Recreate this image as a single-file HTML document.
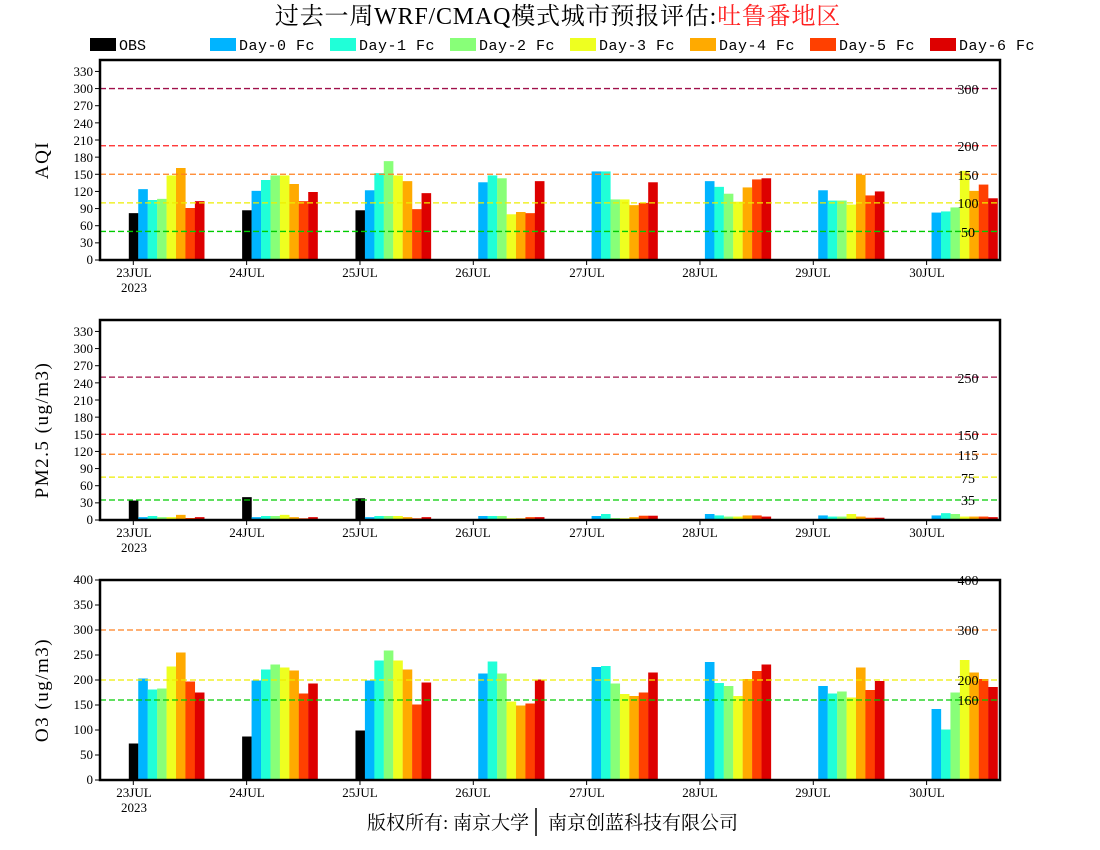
<!DOCTYPE html>
<html><head><meta charset="utf-8">
<style>
body{margin:0;background:#fff;}
svg{display:block;}
text{font-family:"Liberation Serif","Noto Serif CJK SC",serif;}
.mono{font-family:"Liberation Mono",monospace;}
</style></head><body>
<svg id="s" width="1100" height="850" xmlns="http://www.w3.org/2000/svg">
<rect width="1100" height="850" fill="#fff"/>
<text x="558" y="24" font-size="24" text-anchor="middle" letter-spacing="0.8"><tspan fill="#000">过去一周WRF/CMAQ模式城市预报评估:</tspan><tspan fill="#ff2020">吐鲁番地区</tspan></text>
<g font-size="15">
<rect x="90" y="38" width="26" height="13" fill="#000"/><text class="mono" x="119" y="50">OBS</text>
<rect x="210" y="38" width="26" height="13" fill="#00b4ff"/><text class="mono" x="239" y="50" letter-spacing="0.5">Day-0 Fc</text>
<rect x="330" y="38" width="26" height="13" fill="#20ffd8"/><text class="mono" x="359" y="50" letter-spacing="0.5">Day-1 Fc</text>
<rect x="450" y="38" width="26" height="13" fill="#88ff78"/><text class="mono" x="479" y="50" letter-spacing="0.5">Day-2 Fc</text>
<rect x="570" y="38" width="26" height="13" fill="#eeff20"/><text class="mono" x="599" y="50" letter-spacing="0.5">Day-3 Fc</text>
<rect x="690" y="38" width="26" height="13" fill="#ffaa00"/><text class="mono" x="719" y="50" letter-spacing="0.5">Day-4 Fc</text>
<rect x="810" y="38" width="26" height="13" fill="#ff4000"/><text class="mono" x="839" y="50" letter-spacing="0.5">Day-5 Fc</text>
<rect x="930" y="38" width="26" height="13" fill="#dd0000"/><text class="mono" x="959" y="50" letter-spacing="0.5">Day-6 Fc</text>
</g>
<g id="bars"></g>
<g font-size="13" text-anchor="end">
<text x="93" y="264">0</text><text x="93" y="247">30</text><text x="93" y="230">60</text><text x="93" y="213">90</text><text x="93" y="196">120</text><text x="93" y="179">150</text><text x="93" y="162">180</text><text x="93" y="145">210</text><text x="93" y="128">240</text><text x="93" y="110">270</text><text x="93" y="93">300</text><text x="93" y="76">330</text>
<text x="93" y="524">0</text><text x="93" y="507">30</text><text x="93" y="490">60</text><text x="93" y="473">90</text><text x="93" y="456">120</text><text x="93" y="439">150</text><text x="93" y="422">180</text><text x="93" y="405">210</text><text x="93" y="388">240</text><text x="93" y="370">270</text><text x="93" y="353">300</text><text x="93" y="336">330</text>
<text x="93" y="784">0</text><text x="93" y="759">50</text><text x="93" y="734">100</text><text x="93" y="709">150</text><text x="93" y="684">200</text><text x="93" y="659">250</text><text x="93" y="634">300</text><text x="93" y="609">350</text><text x="93" y="584">400</text>
</g>
<g font-size="13" text-anchor="middle" id="xl">
<text x="134" y="277">23JUL</text><text x="134" y="292">2023</text><text x="247" y="277">24JUL</text><text x="360" y="277">25JUL</text><text x="473" y="277">26JUL</text><text x="587" y="277">27JUL</text><text x="700" y="277">28JUL</text><text x="813" y="277">29JUL</text><text x="927" y="277">30JUL</text>
<text x="134" y="537">23JUL</text><text x="134" y="552">2023</text><text x="247" y="537">24JUL</text><text x="360" y="537">25JUL</text><text x="473" y="537">26JUL</text><text x="587" y="537">27JUL</text><text x="700" y="537">28JUL</text><text x="813" y="537">29JUL</text><text x="927" y="537">30JUL</text>
<text x="134" y="797">23JUL</text><text x="134" y="812">2023</text><text x="247" y="797">24JUL</text><text x="360" y="797">25JUL</text><text x="473" y="797">26JUL</text><text x="587" y="797">27JUL</text><text x="700" y="797">28JUL</text><text x="813" y="797">29JUL</text><text x="927" y="797">30JUL</text>
</g>
<g id="lines"></g>
<g font-size="14" text-anchor="middle">
<text x="968" y="94">300</text><text x="968" y="151">200</text><text x="968" y="180">150</text><text x="968" y="208">100</text><text x="968" y="237">50</text>
<text x="968" y="383">250</text><text x="968" y="440">150</text><text x="968" y="460">115</text><text x="968" y="483">75</text><text x="968" y="505">35</text>
<text x="968" y="585">400</text><text x="968" y="635">300</text><text x="968" y="685">200</text><text x="968" y="705">160</text>
</g>
<g font-size="19" text-anchor="middle" letter-spacing="1.5">
<text transform="translate(48,160) rotate(-90)">AQI</text>
<text transform="translate(48,430) rotate(-90)">PM2.5 (ug/m3)</text>
<text transform="translate(48,690) rotate(-90)">O3 (ug/m3)</text>
</g>
<text x="448" y="829" font-size="19" text-anchor="middle">版权所有: 南京大学</text>
<line x1="536" y1="808" x2="536" y2="836" stroke="#000" stroke-width="1.5"/>
<text x="643" y="829" font-size="19" text-anchor="middle">南京创蓝科技有限公司</text>
</svg>
<script>
var NS="http://www.w3.org/2000/svg",g=document.getElementById('bars'),gl=document.getElementById('lines');
function el(n,a,p){var e=document.createElementNS(NS,n);for(var k in a)e.setAttribute(k,a[k]);(p||g).appendChild(e);return e;}
var cols=["#000","#00b4ff","#20ffd8","#88ff78","#eeff20","#ffaa00","#ff4000","#dd0000"];
var panels=[
{top:60,bot:260,max:350,ticks:[0,30,60,90,120,150,180,210,240,270,300,330],
lines:[[300,"#a0104a"],[200,"#ff2020"],[150,"#ff8020"],[100,"#eeee00"],[50,"#00cc00"]],
d:[[82,124,105,107,148,161,91,103],[87,121,140,148,148,133,103,119],[87,122,152,173,148,138,89,117],[0,136,148,143,80,84,82,138],[0,155,155,106,106,96,100,136],[0,138,128,116,102,127,141,143],[0,122,104,104,97,149,113,120],[0,83,85,92,156,121,132,108]]},
{top:320,bot:520,max:350,ticks:[0,30,60,90,120,150,180,210,240,270,300,330],
lines:[[250,"#a0104a"],[150,"#ff2020"],[115,"#ff8020"],[75,"#eeee00"],[35,"#00cc00"]],
d:[[34,5,7,5,5,9,3.5,5],[40,5,7,7,9,5,3,5],[38,5,7,7,7,5,3,5],[0,7,7,7,3,3,5,5],[0,7,10.5,3.5,3,5,7.5,7.5],[0,10.5,8,6,6,8,8,6],[0,8,6,6,10.5,6,4,4],[0,8,12,10.5,6,6,6,5]]},
{top:580,bot:780,max:400,ticks:[0,50,100,150,200,250,300,350,400],
lines:[[400,"#ff2020"],[300,"#ff8020"],[200,"#eeee00"],[160,"#00cc00"]],
d:[[73,203,181,183,227,255,197,175],[87,199,221,231,225,219,173,193],[99,199,239,259,239,221,151,195],[0,213,237,213,157,149,153,201],[0,226,228,193,172,168,175,215],[0,236,194,188,168,202,218,231],[0,188,173,177,165,225,180,198],[0,142,101,175,240,215,202,186]]}];
panels.forEach(function(p){
 var s=(p.bot-p.top)/p.max;
 p.d.forEach(function(day,di){var c=133.3+113.33*di;
  day.forEach(function(v,i){if(v<=0)return;var h=v*s;el('rect',{x:c-4.5+i*9.44,y:p.bot-h,width:9.6,height:h,fill:cols[i]});});
  el('line',{x1:c,x2:c,y1:p.bot,y2:p.bot+5,stroke:'#000','stroke-width':1});
 });
 p.lines.forEach(function(l){var y=p.bot-l[0]*s;el('line',{x1:100,x2:1000,y1:y,y2:y,stroke:l[1],'stroke-width':1.3,'stroke-dasharray':'6,3'},gl);});
 p.ticks.forEach(function(t){var y=p.bot-t*s;el('line',{x1:95,x2:100,y1:y,y2:y,stroke:'#000','stroke-width':1});});
 el('rect',{x:100,y:p.top,width:900,height:p.bot-p.top,fill:'none',stroke:'#000','stroke-width':2.5},gl);
});
</script>
</body></html>
